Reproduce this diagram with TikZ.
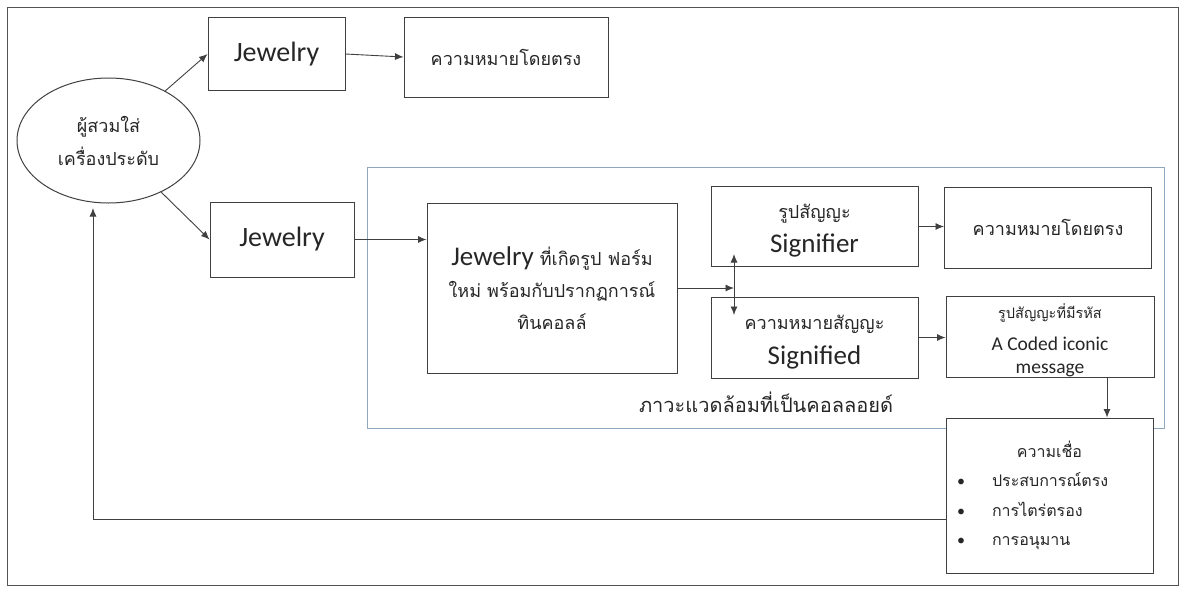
\documentclass[tikz,border=0pt]{standalone}
\usepackage{fontspec}
\setmainfont{Carlito}
\newfontfamily\thai[Script=Thai]{Loma}
\usetikzlibrary{arrows.meta,shapes.geometric}
\definecolor{ln}{HTML}{404040}
\definecolor{txt}{HTML}{262626}
\definecolor{frm}{HTML}{8EA6BE}
\tikzset{
  box/.style={draw=ln, line width=1pt, fill=white, inner sep=0pt, align=center, text=txt},
  lbl/.style={inner sep=0pt, align=center, text=txt},
  arr/.style={-{Latex[length=8.5pt,width=7pt]}, line width=0.9pt, draw=ln},
  arrboth/.style={{Latex[length=8.5pt,width=7pt]}-{Latex[length=8.5pt,width=7pt]}, line width=0.9pt, draw=ln},
}
\newcommand{\jw}{\fontsize{28}{30}\selectfont}
\newcommand{\thx}{\thai\fontsize{18}{26}\selectfont}
\begin{document}
\begin{tikzpicture}[x=1pt,y=-1pt]
\useasboundingbox (0,0) rectangle (1185,592);
\fill[white] (0,0) rectangle (1185,592);
\draw[ln!90, line width=1pt] (7,7) rectangle (1178,585);

% colloid frame
\draw[frm, line width=1pt] (367,167) rectangle (1164,428);
\node[text=txt, font=\thai\fontsize{20}{24}\selectfont] (envlbl) at (766,402) {ภาวะแวดล้อมที่เป็นคอลลอยด์};

% nodes
\node[box, ellipse, minimum width=183pt, minimum height=125pt, font=\thai\fontsize{18}{33}\selectfont] (ell) at (108.5,140.5)
  {ผู้สวมใส่\\เครื่องประดับ};
\node[box, minimum width=137pt, minimum height=73pt] (j1) at (276.5,54) {\jw Jewelry};
\node[box, minimum width=204pt, minimum height=80pt] (m1) at (506,57) {\thx ความหมายโดยตรง};
\node[box, minimum width=144pt, minimum height=75pt] (j2) at (282,239.5) {\jw Jewelry};
\node[box, minimum width=250pt, minimum height=170pt, font=\thai\fontsize{18}{32}\selectfont] (big) at (552,288)
  {{\rmfamily\fontsize{27}{30}\selectfont Jewelry} ที่เกิดรูป ฟอร์ม\\ใหม่ พร้อมกับปรากฏการณ์\\ทินคอลล์};
\node[box, minimum width=207pt, minimum height=80pt] (sr) at (814.5,226.5) {};
\node[lbl, font=\thai\fontsize{18}{34}\selectfont] (srt) at ([yshift=-4pt]sr.center)
  {รูปสัญญะ\\{\rmfamily\fontsize{27}{30}\selectfont Signifier}};
\node[box, minimum width=207pt, minimum height=81pt] (m2) at (1048,227.5) {\thx ความหมายโดยตรง};
\node[box, minimum width=207pt, minimum height=81pt] (sd) at (814.5,337.5) {};
\node[lbl, font=\thai\fontsize{18}{35}\selectfont] (sdt) at ([yshift=-5pt]sd.center)
  {ความหมายสัญญะ\\{\rmfamily\fontsize{27}{30}\selectfont Signified}};
\node[box, minimum width=208pt, minimum height=81pt] (cd) at (1050,336.5) {};
\node[lbl, font=\fontsize{19.5}{23}\selectfont] (cdt) at ([yshift=-4pt]cd.center)
  {{\thai\fontsize{14.5}{16}\selectfont รูปสัญญะที่มีรหัส}\\[9pt]A Coded iconic\\message};
\node[box, minimum width=207pt, minimum height=155pt] (bel) at (1049.5,495.5)
  {\thai\fontsize{16}{29.3}\selectfont\begin{tabular}{@{}p{46pt}@{}p{161pt}@{}}
   \multicolumn{2}{c}{ความเชื่อ}\\
   \hspace*{11pt}{\rmfamily •} & ประสบการณ์ตรง\\
   \hspace*{11pt}{\rmfamily •} & การไตร่ตรอง\\
   \hspace*{11pt}{\rmfamily •} & การอนุมาน
   \end{tabular}};

% helper coordinates
\coordinate (dtop) at (734,254);
\coordinate (dbot) at (734,315);
\coordinate (fb) at (93,208);

% connectors
\draw[arr] (ell) -- (j1.west);
\draw[arr] (ell) -- (j2.west);
\draw[arr] (j1.east) -- (m1.west);
\draw[arr] (j2.east) -- (j2.east -| big.west);
\draw[arr] (big.east) -- (big.east -| dtop);
\draw[arrboth] (dtop) -- (dbot);
\draw[arr] (sr.east) -- (sr.east -| m2.west);
\draw[arr] (sd.east) -- (sd.east -| cd.west);
\draw[arr] ([xshift=57pt]cd.south) -- ([xshift=57pt]cd.south |- bel.north);
\draw[arr] ([yshift=-23.5pt]bel.west) -| (fb);
\end{tikzpicture}
\end{document}
